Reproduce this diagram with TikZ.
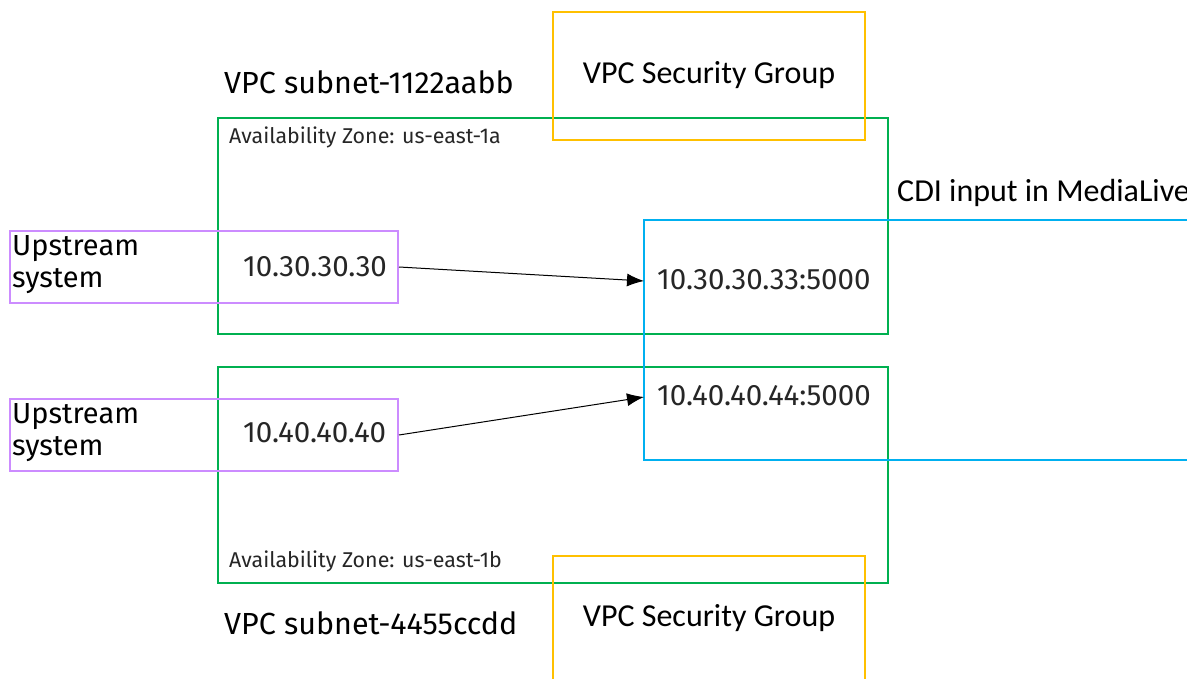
\documentclass[tikz,border=0pt]{standalone}
\usepackage{fontspec}
\setmainfont{Fira Sans}
\newfontfamily\calib{Carlito}
\usetikzlibrary{arrows.meta}
\definecolor{azgreen}{RGB}{0,176,80}
\definecolor{sgyellow}{RGB}{255,192,0}
\definecolor{uppurple}{RGB}{204,140,255}
\definecolor{cdicyan}{RGB}{0,176,240}
\tikzset{
  box/.style={draw, rectangle, inner sep=0pt, line width=2pt},
  azbox/.style={box, draw=azgreen},
  sgbox/.style={box, draw=sgyellow},
  upbox/.style={box, draw=uppurple},
  lbl/.style={inner sep=0pt, anchor=west, text=black},
  big/.style={font=\fontsize{29}{32}\selectfont},
  sub/.style={font=\fontsize{30.5}{34}\selectfont},
  ipf/.style={font=\fontsize{29.5}{32}\selectfont, text=black!85},
  small/.style={font=\fontsize{21.4}{24}\selectfont, text=black!85},
  sgf/.style={font=\calib\fontsize{32}{36}\selectfont},
  flow/.style={-{Latex[length=17pt,width=13pt]}, line width=1pt, black}
}
\begin{document}
\begin{tikzpicture}[x=1pt,y=-1pt]
\useasboundingbox (0,0) rectangle (1187,679);
\clip (0,0) rectangle (1187,679);
% availability zones
\node[azbox, minimum width=670pt, minimum height=216pt] (az1) at (553,226) {};
\node[azbox, minimum width=670pt, minimum height=216pt] (az2) at (553,475) {};
% security groups
\node[sgbox, minimum width=312pt, minimum height=128pt] (sg1) at (709,76) {};
\node[sgf, inner sep=0pt] (sg1t) at (709,75) {VPC Security Group};
\draw[sgyellow, line width=2pt] (553,690) -- (553,556) -- (865,556) -- (865,690);
\node[sgf, inner sep=0pt] (sg2t) at (709,618) {VPC Security Group};
% CDI input
\draw[cdicyan, line width=1.5pt] (1195,220) -- (644,220) -- (644,460) -- (1195,460);
\coordinate (in1) at (644,281);
\coordinate (in2) at (644,397);
\node[lbl, sgf] (cdit) at (897,193) {CDI input in MediaLive};
% upstream boxes
\node[upbox, minimum width=388pt, minimum height=72pt] (up1) at (204,267) {};
\node[upbox, minimum width=388pt, minimum height=72pt] (up2) at (204,435) {};
\node[lbl, big, align=left] (up1t) at (12,265) {Upstream\\system};
\node[lbl, big, align=left] (up2t) at (12,433) {Upstream\\system};
% labels
\node[lbl, sub] (sn1) at (224,82) {VPC subnet-1122aabb};
\node[lbl, sub] (sn2) at (224,623) {VPC subnet-4455ccdd};
\node[lbl, small] (az1t) at (229,137) {Availability Zone: us-east-1a};
\node[lbl, small] (az2t) at (229,561) {Availability Zone: us-east-1b};
% addresses
\node[lbl, ipf] (ip1) at (243,267) {10.30.30.30};
\node[lbl, ipf] (ip2) at (243,433) {10.40.40.40};
\node[lbl, ipf] (ip3) at (657,280) {10.30.30.33:5000};
\node[lbl, ipf] (ip4) at (657,396) {10.40.40.44:5000};
% flows
\draw[flow] (up1.east) -- (in1);
\draw[flow] (up2.east) -- (in2);
\end{tikzpicture}
\end{document}
